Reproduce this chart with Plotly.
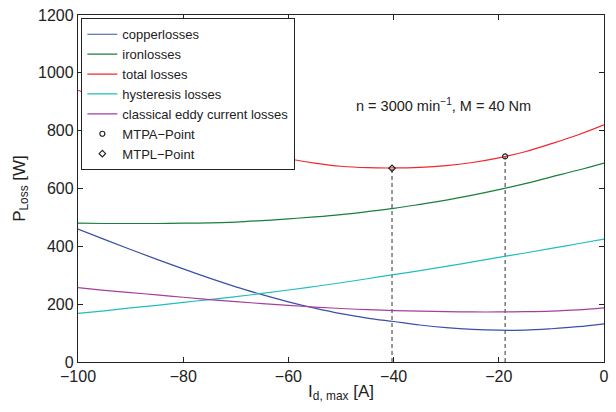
import plotly.graph_objects as go

# ---- data ----
id_max = [-100, -95, -90, -85, -80, -75, -70, -65, -60, -55, -50,
          -45, -40, -35, -30, -25, -20, -15, -10, -5, 0]
copper_losses = [460, 424, 389, 355, 322, 290, 260, 233, 208, 186, 167,
                 152, 140, 128, 119, 113, 110, 110, 115, 122, 132]
iron_losses = [480, 479, 479, 479, 480, 481, 484, 489, 495, 502, 510,
               520, 531, 545, 560, 577, 596, 617, 640, 663, 688]
total_losses = [940, 903, 868, 834, 802, 771, 744, 722, 703, 688, 677,
                672, 671, 673, 679, 690, 706, 727, 755, 785, 820]
hysteresis_losses = [168, 177, 187, 196, 206, 216, 226, 237, 249, 261, 274,
                     288, 302, 316, 331, 346, 362, 377, 393, 409, 425]
eddy_losses = [257, 248, 240, 232, 224, 216, 209, 202, 196, 190, 185,
               181, 178, 176, 174, 173, 173, 174, 176, 180, 187]

mtpa_point = (-18.8, 711)
mtpl_point = (-40.3, 670)

series = [
    ("copperlosses", copper_losses, "#3B4FA8"),
    ("ironlosses", iron_losses, "#1A7F3C"),
    ("total losses", total_losses, "#F0282E"),
    ("hysteresis losses", hysteresis_losses, "#22BDBD"),
    ("classical eddy current losses", eddy_losses, "#A43EA0"),
]

fig = go.Figure()

# dashed verticals
for px_, py_ in (mtpl_point, mtpa_point):
    fig.add_trace(go.Scatter(x=[px_, px_], y=[0, py_], mode="lines",
                             line=dict(color="#333333", width=1, dash="4px,3px"),
                             showlegend=False, hoverinfo="skip"))

for name, vals, col in series:
    fig.add_trace(go.Scatter(x=id_max, y=vals, mode="lines", name=name,
                             line=dict(color=col, width=1.2, shape="spline")))

fig.add_trace(go.Scatter(x=[mtpa_point[0]], y=[mtpa_point[1]], mode="markers",
                         name="MTPA\u2212Point",
                         marker=dict(symbol="circle-open", size=5,
                                     color="#222222", line=dict(width=1.2))))
fig.add_trace(go.Scatter(x=[mtpl_point[0]], y=[mtpl_point[1]], mode="markers",
                         name="MTPL\u2212Point",
                         marker=dict(symbol="diamond-open", size=5,
                                     color="#222222", line=dict(width=1.2))))

fig.add_annotation(x=-30.6, y=888, xref="x", yref="y",
                   text="n = 3000 min<sup>\u22121</sup>, M = 40 Nm",
                   showarrow=False, font=dict(size=14.5, color="#222222"))

font_family = "Liberation Sans, Arial, sans-serif"
fig.update_layout(
    width=616, height=412,
    margin=dict(l=78, r=7, t=12, b=50),
    paper_bgcolor="white", plot_bgcolor="white",
    font=dict(family=font_family, color="#222222"),
    legend=dict(x=0.006, y=0.991, xanchor="left", yanchor="top",
                bgcolor="white", bordercolor="#222222", borderwidth=1.2,
                font=dict(size=13), itemwidth=30, tracegroupgap=0),
    showlegend=True,
)
fig.update_xaxes(range=[-100, 0], dtick=20, tick0=0, ticks="inside",
                 ticklen=5, tickcolor="#222222", showline=True,
                 linecolor="#222222", linewidth=1.3, mirror="ticks",
                 showgrid=False, zeroline=False,
                 tickfont=dict(size=16),
                 title=dict(text="I<sub>d, max</sub> [A]", font=dict(size=17),
                            standoff=0))
fig.update_yaxes(range=[0, 1200], dtick=200, ticks="inside",
                 ticklen=5, tickcolor="#222222", showline=True,
                 linecolor="#222222", linewidth=1.3, mirror="ticks",
                 showgrid=False, zeroline=False,
                 tickfont=dict(size=16),
                 title=dict(text="P<sub>Loss</sub> [W]", font=dict(size=17),
                            standoff=8))

fig.write_html("out.html")
